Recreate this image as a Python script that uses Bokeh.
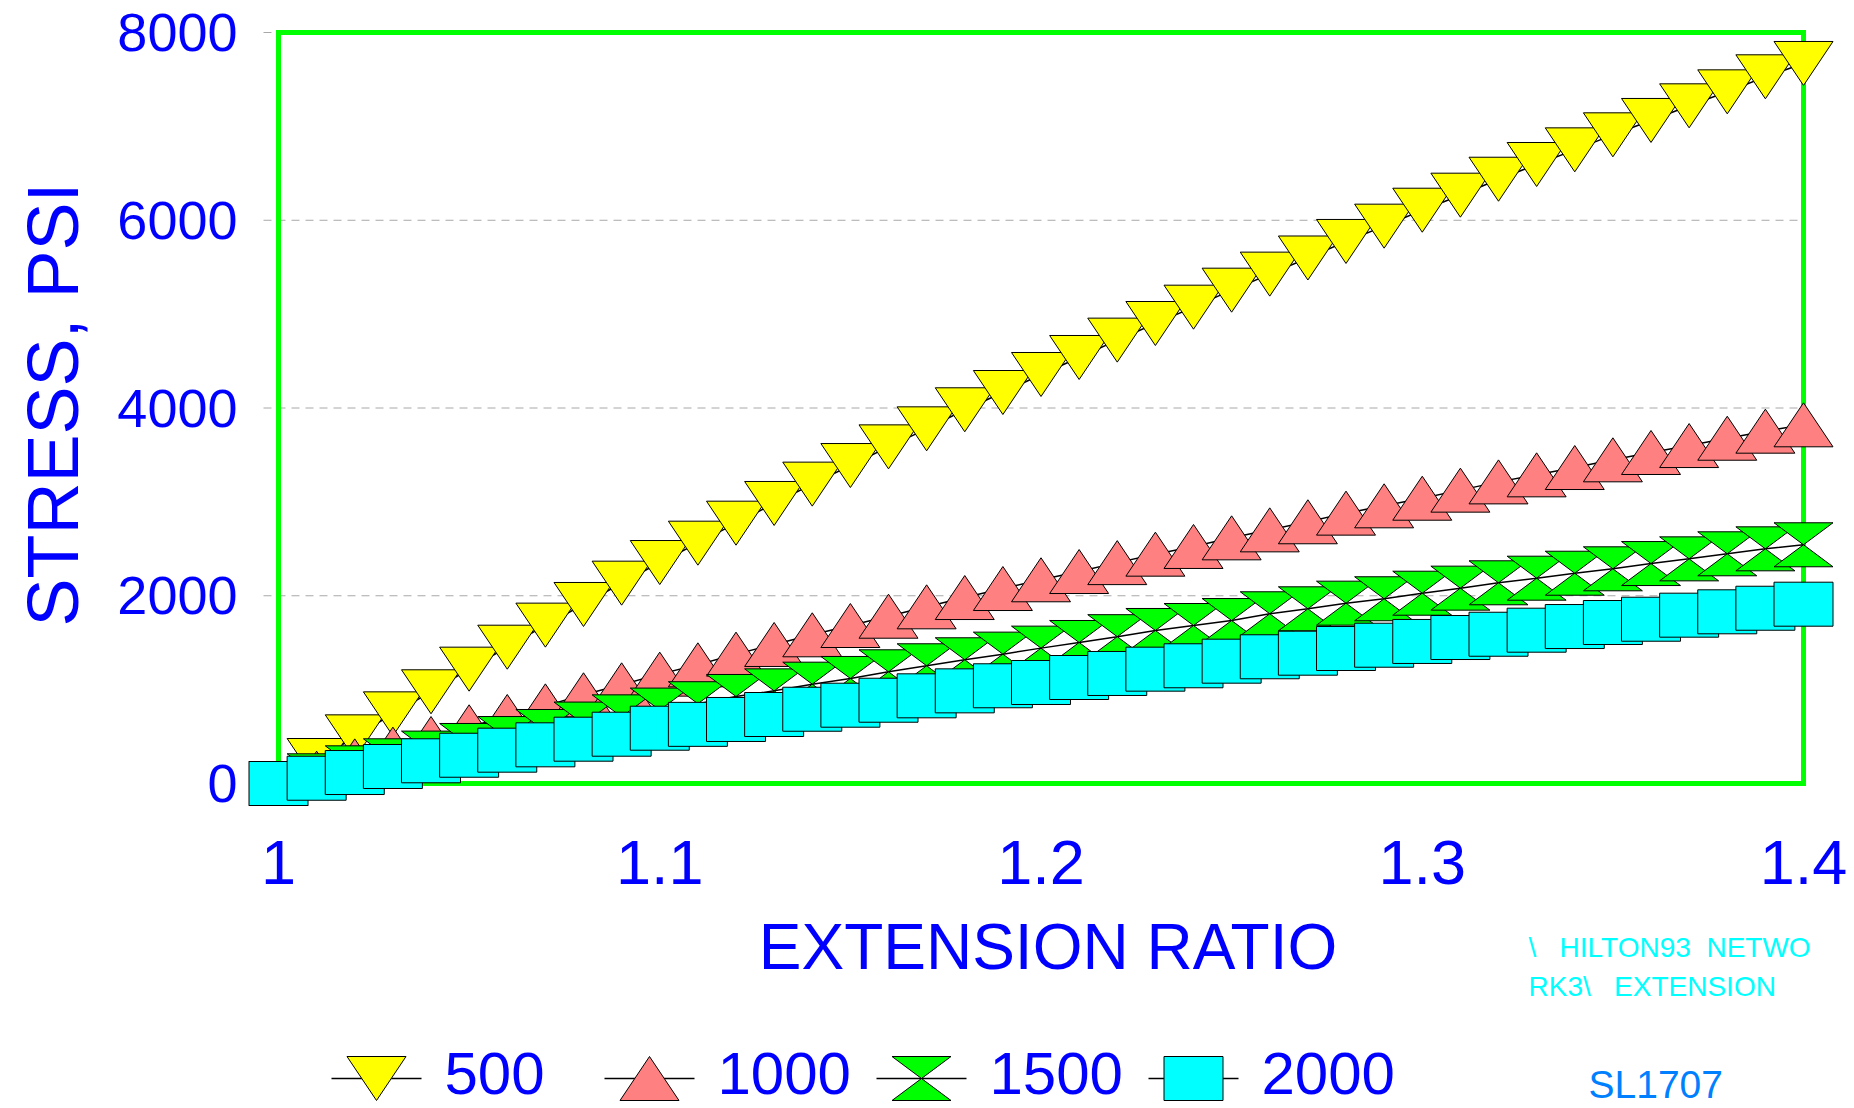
from bokeh.plotting import figure
from bokeh.layouts import column
from bokeh.models import FixedTicker
from bokeh.embed import file_html
from bokeh.resources import INLINE
from bokeh.core.properties import value

# ---------------- data ----------------
extension_ratio = [1.00, 1.01, 1.02, 1.03, 1.04, 1.05, 1.06, 1.07, 1.08, 1.09,
                   1.10, 1.11, 1.12, 1.13, 1.14, 1.15, 1.16, 1.17, 1.18, 1.19,
                   1.20, 1.21, 1.22, 1.23, 1.24, 1.25, 1.26, 1.27, 1.28, 1.29,
                   1.30, 1.31, 1.32, 1.33, 1.34, 1.35, 1.36, 1.37, 1.38, 1.39,
                   1.40]
stress_500 = [0, 245, 497, 742, 977, 1218, 1452, 1687, 1907, 2134,
              2354, 2560, 2773, 2983, 3189, 3387, 3586, 3778, 3981, 4165,
              4357, 4538, 4723, 4900, 5074, 5255, 5426, 5598, 5774, 5937,
              6107, 6267, 6437, 6594, 6750, 6910, 7063, 7219, 7368, 7528,
              7670]
stress_1000 = [0, 110, 241, 366, 479, 604, 714, 827, 945, 1051,
               1165, 1264, 1378, 1481, 1584, 1683, 1782, 1882, 1981, 2077,
               2170, 2258, 2353, 2443, 2525, 2617, 2702, 2788, 2880, 2958,
               3039, 3125, 3213, 3288, 3366, 3448, 3526, 3600, 3678, 3753,
               3821]
stress_1500 = [0, 82, 167, 242, 324, 405, 479, 554, 633, 710,
               782, 850, 927, 987, 1058, 1119, 1190, 1254, 1318, 1378,
               1442, 1502, 1564, 1630, 1683, 1736, 1808, 1861, 1921, 1968,
               2027, 2081, 2138, 2187, 2240, 2287, 2343, 2393, 2447, 2500,
               2543]
stress_2000 = [0, 56, 117, 181, 242, 301, 355, 412, 472, 525,
               589, 630, 682, 735, 791, 834, 887, 934, 987, 1041,
               1076, 1129, 1172, 1218, 1254, 1303, 1350, 1388, 1438, 1473,
               1513, 1555, 1590, 1633, 1672, 1715, 1750, 1793, 1829, 1867,
               1910]
series_names = ["500", "1000", "1500", "2000"]
x_ticks = [1.0, 1.1, 1.2, 1.3, 1.4]
x_tick_labels = ["1", "1.1", "1.2", "1.3", "1.4"]
y_ticks = [0, 2000, 4000, 6000, 8000]
y_tick_labels = ["0", "2000", "4000", "6000", "8000"]
x_title = "EXTENSION RATIO"
y_title = "STRESS, PSI"
NB = "\u00a0"
note_lines = ["\\" + NB * 3 + "HILTON93" + NB * 2 + "NETWO",
              "RK3\\" + NB * 3 + "EXTENSION"]
code_text = "SL1707"

# ---------------- styles / layout ----------------
FONT = "Liberation Sans"
BLUE = "#0000FF"
series_styles = [
    ("down", "#FFFF00"),
    ("up", "#FF8080"),
    ("hourglass", "#00FF00"),
    ("square", "#00FFFF"),
]
SHAPES = {
    "down": [(-1, 1), (1, 1), (0, -1)],
    "up": [(-1, -1), (1, -1), (0, 1)],
    "hourglass": [(-1, 1), (1, 1), (0, 0), (1, -1), (-1, -1), (0, 0)],
    "square": [(-1, -1), (1, -1), (1, 1), (-1, 1)],
}
HALF_W, HALF_H = 29.5, 22.0      # marker half size in pixels

BOX_W, BOX_H = 1525, 751         # green box size in pixels
PAD_L, PAD_R, PAD_T, PAD_B = 40, 37, 30, 23
FRAME_W = BOX_W + PAD_L + PAD_R
FRAME_H = BOX_H + PAD_T + PAD_B
BORDER_L, BORDER_R, BORDER_T, BORDER_B = 238, 10, 2, 104
px_x = BOX_W / (x_ticks[-1] - x_ticks[0])
px_y = BOX_H / (y_ticks[-1] - y_ticks[0])
x_start = x_ticks[0] - PAD_L / px_x
x_end = x_ticks[-1] + PAD_R / px_x
y_start = y_ticks[0] - PAD_B / px_y
y_end = y_ticks[-1] + PAD_T / px_y


def polys(xs, ys, kind, sx, sy):
    pts = SHAPES[kind]
    return ([[x + dx * sx for dx, dy in pts] for x in xs],
            [[y + dy * sy for dx, dy in pts] for y in ys])


p = figure(frame_width=FRAME_W, frame_height=FRAME_H,
           x_range=(x_start, x_end), y_range=(y_start, y_end),
           output_backend="svg", toolbar_location=None,
           min_border_left=BORDER_L, min_border_right=BORDER_R,
           min_border_top=BORDER_T, min_border_bottom=BORDER_B)
p.outline_line_color = None
p.xgrid.visible = False
p.ygrid.visible = False
p.background_fill_color = "white"
p.border_fill_color = "white"

# dashed grid lines at the y ticks (stopping at the green box)
p.segment(x0=[x_ticks[0] - 15 / px_x] * len(y_ticks), y0=y_ticks,
          x1=[x_ticks[-1]] * len(y_ticks), y1=y_ticks,
          line_color="#A8A8A8", line_width=1, line_dash="8 6")
# green plot box
p.quad(left=[x_ticks[0]], right=[x_ticks[-1]], bottom=[y_ticks[0]], top=[y_ticks[-1]],
       fill_color=None, line_color="#00FF00", line_width=5, line_join="miter")

all_series = [stress_500, stress_1000, stress_1500, stress_2000]
for ys, (kind, color) in zip(all_series, series_styles):
    p.line(extension_ratio, ys, line_color="black", line_width=1.5)
    xs_p, ys_p = polys(extension_ratio, ys, kind, HALF_W / px_x, HALF_H / px_y)
    p.patches(xs_p, ys_p, fill_color=color, line_color="black", line_width=1)

# axes
p.xaxis.ticker = FixedTicker(ticks=x_ticks)
p.xaxis.major_label_overrides = dict(zip(x_ticks, x_tick_labels))
p.yaxis.ticker = FixedTicker(ticks=y_ticks)
p.yaxis.major_label_overrides = dict(zip(y_ticks, y_tick_labels))
for ax in (p.xaxis, p.yaxis):
    ax.axis_line_color = None
    ax.major_tick_line_color = None
    ax.minor_tick_line_color = None
    ax.major_tick_out = 0
    ax.major_tick_in = 0
    ax.major_label_text_font = FONT
    ax.major_label_text_color = BLUE
    ax.axis_label_text_font = FONT
    ax.axis_label_text_color = BLUE
    ax.axis_label_text_font_style = "normal"
p.xaxis.major_label_text_font_size = "63px"
p.xaxis.major_label_standoff = 34
p.yaxis.major_label_text_font_size = "54px"
p.yaxis.major_label_standoff = 1
p.yaxis.axis_label = y_title
p.yaxis.axis_label_text_font_size = "72px"
p.yaxis.axis_label_standoff = 21

# ---------------- bottom strip: x title, note, legend, code ----------------
MAIN_H = BORDER_T + FRAME_H + BORDER_B
STRIP_BOTTOM = 1106                       # page y of the strip's bottom edge
STRIP_H = STRIP_BOTTOM - MAIN_H


def sy(page_y):
    return STRIP_BOTTOM - page_y


q = figure(frame_width=FRAME_W, height=STRIP_H,
           x_range=(BORDER_L, BORDER_L + FRAME_W), y_range=(0, STRIP_H),
           output_backend="svg", toolbar_location=None,
           x_axis_location=None, y_axis_location=None,
           min_border_left=BORDER_L, min_border_right=BORDER_R,
           min_border_top=0, min_border_bottom=0)
q.outline_line_color = None
q.xgrid.visible = False
q.ygrid.visible = False
q.background_fill_color = "white"
q.border_fill_color = "white"

# x axis title, centred under the green box
q.text(x=[BORDER_L + PAD_L + BOX_W / 2 + 7], y=[sy(946)], text=[x_title],
       text_font=value(FONT), text_font_size=value("64px"), text_color=BLUE,
       text_baseline="middle", text_align="center")
# cyan note
q.text(x=[1528] * len(note_lines), y=[sy(947), sy(986)], text=note_lines,
       text_font=value(FONT), text_font_size=value("28px"), text_color="#00FFFF",
       text_baseline="middle", text_align="left")

# legend
leg_cx = [376, 649, 921, 1193]
leg_cy = sy(1078)
for cx, (kind, color) in zip(leg_cx, series_styles):
    q.segment(x0=[cx - 45], y0=[leg_cy], x1=[cx + 45], y1=[leg_cy],
              line_color="black", line_width=1.5)
    xs_p, ys_p = polys([cx], [leg_cy], kind, HALF_W, HALF_H)
    q.patches(xs_p, ys_p, fill_color=color, line_color="black", line_width=1)
q.text(x=[cx + 68 for cx in leg_cx], y=[sy(1073)] * len(leg_cx), text=series_names,
       text_font=value(FONT), text_font_size=value("60px"), text_color=BLUE,
       text_baseline="middle", text_align="left")
q.text(x=[1588], y=[sy(1084)], text=[code_text],
       text_font=value(FONT), text_font_size=value("39px"), text_color="#0080FF",
       text_baseline="middle", text_align="left")

layout = column(p, q, spacing=0)
open("out.html", "w").write(file_html(layout, INLINE))
